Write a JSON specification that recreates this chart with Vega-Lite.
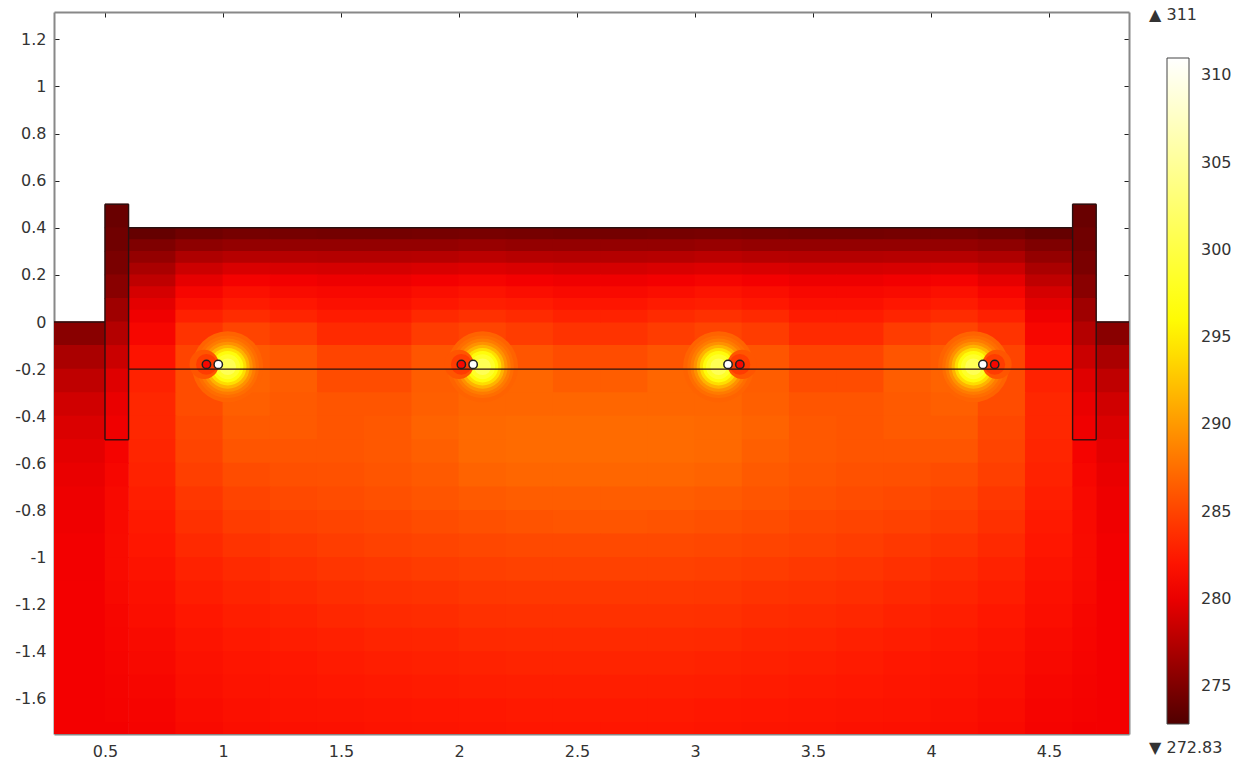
{"$schema":"https://vega.github.io/schema/vega-lite/v6.json","width":1075,"height":722,"autosize":"none","padding":{"left":54,"top":12,"right":118,"bottom":31},"background":"white","view":{"stroke":null},
"config":{"font":"DejaVu Sans","axis":{"labelFont":"DejaVu Sans","labelFontSize":16,"labelColor":"#333","domainColor":"#888","domainWidth":2,"tickColor":"#222","tickSize":-5,"tickWidth":1,"grid":false,"title":null,"zindex":1}},
"datasets":{
"top":[
{"x":0.7,"y":0.375,"t":273.8},{"x":0.9,"y":0.375,"t":274.3},{"x":1.1,"y":0.375,"t":274.6},{"x":1.3,"y":0.375,"t":274.6},{"x":1.5,"y":0.375,"t":274.5},{"x":1.7,"y":0.375,"t":274.5},{"x":1.9,"y":0.375,"t":274.6},{"x":2.1,"y":0.375,"t":274.7},{"x":2.3,"y":0.375,"t":274.6},{"x":2.5,"y":0.375,"t":274.5},{"x":2.7,"y":0.375,"t":274.5},{"x":2.9,"y":0.375,"t":274.6},{"x":3.1,"y":0.375,"t":274.7},{"x":3.3,"y":0.375,"t":274.6},{"x":3.5,"y":0.375,"t":274.5},{"x":3.7,"y":0.375,"t":274.5},{"x":3.9,"y":0.375,"t":274.6},{"x":4.1,"y":0.375,"t":274.6},{"x":4.3,"y":0.375,"t":274.3},{"x":4.5,"y":0.375,"t":273.8},
{"x":0.7,"y":0.325,"t":275},{"x":0.9,"y":0.325,"t":275.7},{"x":1.1,"y":0.325,"t":276},{"x":1.3,"y":0.325,"t":276},{"x":1.5,"y":0.325,"t":276},{"x":1.7,"y":0.325,"t":276},{"x":1.9,"y":0.325,"t":276},{"x":2.1,"y":0.325,"t":276.2},{"x":2.3,"y":0.325,"t":276},{"x":2.5,"y":0.325,"t":276},{"x":2.7,"y":0.325,"t":276},{"x":2.9,"y":0.325,"t":276},{"x":3.1,"y":0.325,"t":276.2},{"x":3.3,"y":0.325,"t":276},{"x":3.5,"y":0.325,"t":276},{"x":3.7,"y":0.325,"t":276},{"x":3.9,"y":0.325,"t":276},{"x":4.1,"y":0.325,"t":276},{"x":4.3,"y":0.325,"t":275.7},{"x":4.5,"y":0.325,"t":275},
{"x":0.7,"y":0.275,"t":276},{"x":0.9,"y":0.275,"t":277.2},{"x":1.1,"y":0.275,"t":277.6},{"x":1.3,"y":0.275,"t":277.6},{"x":1.5,"y":0.275,"t":277.5},{"x":1.7,"y":0.275,"t":277.5},{"x":1.9,"y":0.275,"t":277.6},{"x":2.1,"y":0.275,"t":277.8},{"x":2.3,"y":0.275,"t":277.6},{"x":2.5,"y":0.275,"t":277.5},{"x":2.7,"y":0.275,"t":277.5},{"x":2.9,"y":0.275,"t":277.6},{"x":3.1,"y":0.275,"t":277.8},{"x":3.3,"y":0.275,"t":277.6},{"x":3.5,"y":0.275,"t":277.5},{"x":3.7,"y":0.275,"t":277.5},{"x":3.9,"y":0.275,"t":277.6},{"x":4.1,"y":0.275,"t":277.6},{"x":4.3,"y":0.275,"t":277.2},{"x":4.5,"y":0.275,"t":276},
{"x":0.7,"y":0.225,"t":277},{"x":0.9,"y":0.225,"t":278.6},{"x":1.1,"y":0.225,"t":279.2},{"x":1.3,"y":0.225,"t":279.1},{"x":1.5,"y":0.225,"t":279},{"x":1.7,"y":0.225,"t":279},{"x":1.9,"y":0.225,"t":279.2},{"x":2.1,"y":0.225,"t":279.4},{"x":2.3,"y":0.225,"t":279.2},{"x":2.5,"y":0.225,"t":279},{"x":2.7,"y":0.225,"t":279},{"x":2.9,"y":0.225,"t":279.2},{"x":3.1,"y":0.225,"t":279.4},{"x":3.3,"y":0.225,"t":279.2},{"x":3.5,"y":0.225,"t":279},{"x":3.7,"y":0.225,"t":279},{"x":3.9,"y":0.225,"t":279.1},{"x":4.1,"y":0.225,"t":279.2},{"x":4.3,"y":0.225,"t":278.6},{"x":4.5,"y":0.225,"t":277},
{"x":0.7,"y":0.175,"t":278},{"x":0.9,"y":0.175,"t":279.8},{"x":1.1,"y":0.175,"t":280.6},{"x":1.3,"y":0.175,"t":280.4},{"x":1.5,"y":0.175,"t":280.2},{"x":1.7,"y":0.175,"t":280.2},{"x":1.9,"y":0.175,"t":280.5},{"x":2.1,"y":0.175,"t":280.8},{"x":2.3,"y":0.175,"t":280.5},{"x":2.5,"y":0.175,"t":280.3},{"x":2.7,"y":0.175,"t":280.3},{"x":2.9,"y":0.175,"t":280.5},{"x":3.1,"y":0.175,"t":280.8},{"x":3.3,"y":0.175,"t":280.5},{"x":3.5,"y":0.175,"t":280.2},{"x":3.7,"y":0.175,"t":280.2},{"x":3.9,"y":0.175,"t":280.4},{"x":4.1,"y":0.175,"t":280.6},{"x":4.3,"y":0.175,"t":279.8},{"x":4.5,"y":0.175,"t":278},
{"x":0.7,"y":0.125,"t":279},{"x":0.9,"y":0.125,"t":280.9},{"x":1.1,"y":0.125,"t":281.8},{"x":1.3,"y":0.125,"t":281.4},{"x":1.5,"y":0.125,"t":281.1},{"x":1.7,"y":0.125,"t":281.1},{"x":1.9,"y":0.125,"t":281.6},{"x":2.1,"y":0.125,"t":282},{"x":2.3,"y":0.125,"t":281.6},{"x":2.5,"y":0.125,"t":281.3},{"x":2.7,"y":0.125,"t":281.3},{"x":2.9,"y":0.125,"t":281.6},{"x":3.1,"y":0.125,"t":282},{"x":3.3,"y":0.125,"t":281.6},{"x":3.5,"y":0.125,"t":281.1},{"x":3.7,"y":0.125,"t":281.1},{"x":3.9,"y":0.125,"t":281.4},{"x":4.1,"y":0.125,"t":281.8},{"x":4.3,"y":0.125,"t":280.9},{"x":4.5,"y":0.125,"t":279},
{"x":0.7,"y":0.075,"t":279.7},{"x":0.9,"y":0.075,"t":281.8},{"x":1.1,"y":0.075,"t":282.6},{"x":1.3,"y":0.075,"t":282.3},{"x":1.5,"y":0.075,"t":281.8},{"x":1.7,"y":0.075,"t":281.8},{"x":1.9,"y":0.075,"t":282.4},{"x":2.1,"y":0.075,"t":282.8},{"x":2.3,"y":0.075,"t":282.6},{"x":2.5,"y":0.075,"t":282.2},{"x":2.7,"y":0.075,"t":282.2},{"x":2.9,"y":0.075,"t":282.6},{"x":3.1,"y":0.075,"t":282.8},{"x":3.3,"y":0.075,"t":282.4},{"x":3.5,"y":0.075,"t":281.8},{"x":3.7,"y":0.075,"t":281.8},{"x":3.9,"y":0.075,"t":282.3},{"x":4.1,"y":0.075,"t":282.6},{"x":4.3,"y":0.075,"t":281.8},{"x":4.5,"y":0.075,"t":279.7},
{"x":0.7,"y":0.025,"t":280.3},{"x":0.9,"y":0.025,"t":282.9},{"x":1.1,"y":0.025,"t":283.6},{"x":1.3,"y":0.025,"t":283.1},{"x":1.5,"y":0.025,"t":282.6},{"x":1.7,"y":0.025,"t":282.6},{"x":1.9,"y":0.025,"t":283.4},{"x":2.1,"y":0.025,"t":283.8},{"x":2.3,"y":0.025,"t":283.5},{"x":2.5,"y":0.025,"t":283},{"x":2.7,"y":0.025,"t":283},{"x":2.9,"y":0.025,"t":283.5},{"x":3.1,"y":0.025,"t":283.8},{"x":3.3,"y":0.025,"t":283.4},{"x":3.5,"y":0.025,"t":282.6},{"x":3.7,"y":0.025,"t":282.6},{"x":3.9,"y":0.025,"t":283.1},{"x":4.1,"y":0.025,"t":283.6},{"x":4.3,"y":0.025,"t":282.9},{"x":4.5,"y":0.025,"t":280.3}
],
"body":[
{"x":0.7,"y":-0.05,"t":281},{"x":0.9,"y":-0.05,"t":284},{"x":1.1,"y":-0.05,"t":285},{"x":1.3,"y":-0.05,"t":284.5},{"x":1.5,"y":-0.05,"t":283.5},{"x":1.7,"y":-0.05,"t":283.5},{"x":1.9,"y":-0.05,"t":284.5},{"x":2.1,"y":-0.05,"t":285},{"x":2.3,"y":-0.05,"t":284.5},{"x":2.5,"y":-0.05,"t":284},{"x":2.7,"y":-0.05,"t":284},{"x":2.9,"y":-0.05,"t":284.5},{"x":3.1,"y":-0.05,"t":285},{"x":3.3,"y":-0.05,"t":284.5},{"x":3.5,"y":-0.05,"t":283.5},{"x":3.7,"y":-0.05,"t":283.5},{"x":3.9,"y":-0.05,"t":284.5},{"x":4.1,"y":-0.05,"t":285},{"x":4.3,"y":-0.05,"t":284},{"x":4.5,"y":-0.05,"t":281},
{"x":0.7,"y":-0.15,"t":282},{"x":0.9,"y":-0.15,"t":285},{"x":1.1,"y":-0.15,"t":286.3},{"x":1.3,"y":-0.15,"t":286},{"x":1.5,"y":-0.15,"t":285},{"x":1.7,"y":-0.15,"t":285},{"x":1.9,"y":-0.15,"t":286},{"x":2.1,"y":-0.15,"t":286.5},{"x":2.3,"y":-0.15,"t":286},{"x":2.5,"y":-0.15,"t":285.5},{"x":2.7,"y":-0.15,"t":285.5},{"x":2.9,"y":-0.15,"t":286},{"x":3.1,"y":-0.15,"t":286.5},{"x":3.3,"y":-0.15,"t":286},{"x":3.5,"y":-0.15,"t":285},{"x":3.7,"y":-0.15,"t":285},{"x":3.9,"y":-0.15,"t":286},{"x":4.1,"y":-0.15,"t":286.3},{"x":4.3,"y":-0.15,"t":285},{"x":4.5,"y":-0.15,"t":282},
{"x":0.7,"y":-0.25,"t":283},{"x":0.9,"y":-0.25,"t":285.5},{"x":1.1,"y":-0.25,"t":286.8},{"x":1.3,"y":-0.25,"t":286.5},{"x":1.5,"y":-0.25,"t":285.5},{"x":1.7,"y":-0.25,"t":285.5},{"x":1.9,"y":-0.25,"t":286.5},{"x":2.1,"y":-0.25,"t":287},{"x":2.3,"y":-0.25,"t":287},{"x":2.5,"y":-0.25,"t":286.5},{"x":2.7,"y":-0.25,"t":286.5},{"x":2.9,"y":-0.25,"t":287},{"x":3.1,"y":-0.25,"t":287},{"x":3.3,"y":-0.25,"t":286.5},{"x":3.5,"y":-0.25,"t":285.5},{"x":3.7,"y":-0.25,"t":285.5},{"x":3.9,"y":-0.25,"t":286.5},{"x":4.1,"y":-0.25,"t":286.8},{"x":4.3,"y":-0.25,"t":285.5},{"x":4.5,"y":-0.25,"t":283},
{"x":0.7,"y":-0.35,"t":283.3},{"x":0.9,"y":-0.35,"t":285.5},{"x":1.1,"y":-0.35,"t":286.6},{"x":1.3,"y":-0.35,"t":286.3},{"x":1.5,"y":-0.35,"t":286},{"x":1.7,"y":-0.35,"t":286},{"x":1.9,"y":-0.35,"t":286.6},{"x":2.1,"y":-0.35,"t":287},{"x":2.3,"y":-0.35,"t":287},{"x":2.5,"y":-0.35,"t":287},{"x":2.7,"y":-0.35,"t":287},{"x":2.9,"y":-0.35,"t":287},{"x":3.1,"y":-0.35,"t":287},{"x":3.3,"y":-0.35,"t":286.6},{"x":3.5,"y":-0.35,"t":286},{"x":3.7,"y":-0.35,"t":286},{"x":3.9,"y":-0.35,"t":286.3},{"x":4.1,"y":-0.35,"t":286.6},{"x":4.3,"y":-0.35,"t":285.5},{"x":4.5,"y":-0.35,"t":283.3},
{"x":0.7,"y":-0.45,"t":283.3},{"x":0.9,"y":-0.45,"t":285.2},{"x":1.1,"y":-0.45,"t":286.3},{"x":1.3,"y":-0.45,"t":286.3},{"x":1.5,"y":-0.45,"t":286},{"x":1.7,"y":-0.45,"t":286.2},{"x":1.9,"y":-0.45,"t":286.8},{"x":2.1,"y":-0.45,"t":287.2},{"x":2.3,"y":-0.45,"t":287.3},{"x":2.5,"y":-0.45,"t":287.3},{"x":2.7,"y":-0.45,"t":287.3},{"x":2.9,"y":-0.45,"t":287.3},{"x":3.1,"y":-0.45,"t":287.2},{"x":3.3,"y":-0.45,"t":286.8},{"x":3.5,"y":-0.45,"t":286.2},{"x":3.7,"y":-0.45,"t":286},{"x":3.9,"y":-0.45,"t":286.3},{"x":4.1,"y":-0.45,"t":286.3},{"x":4.3,"y":-0.45,"t":285.2},{"x":4.5,"y":-0.45,"t":283.3},
{"x":0.7,"y":-0.55,"t":283.2},{"x":0.9,"y":-0.55,"t":285},{"x":1.1,"y":-0.55,"t":286},{"x":1.3,"y":-0.55,"t":286},{"x":1.5,"y":-0.55,"t":286},{"x":1.7,"y":-0.55,"t":286.2},{"x":1.9,"y":-0.55,"t":286.6},{"x":2.1,"y":-0.55,"t":287.2},{"x":2.3,"y":-0.55,"t":287.3},{"x":2.5,"y":-0.55,"t":287.3},{"x":2.7,"y":-0.55,"t":287.3},{"x":2.9,"y":-0.55,"t":287.3},{"x":3.1,"y":-0.55,"t":287.2},{"x":3.3,"y":-0.55,"t":286.6},{"x":3.5,"y":-0.55,"t":286.2},{"x":3.7,"y":-0.55,"t":286},{"x":3.9,"y":-0.55,"t":286},{"x":4.1,"y":-0.55,"t":286},{"x":4.3,"y":-0.55,"t":285},{"x":4.5,"y":-0.55,"t":283.2},
{"x":0.7,"y":-0.65,"t":283},{"x":0.9,"y":-0.65,"t":284.7},{"x":1.1,"y":-0.65,"t":285.5},{"x":1.3,"y":-0.65,"t":285.7},{"x":1.5,"y":-0.65,"t":285.8},{"x":1.7,"y":-0.65,"t":286},{"x":1.9,"y":-0.65,"t":286.3},{"x":2.1,"y":-0.65,"t":286.8},{"x":2.3,"y":-0.65,"t":287},{"x":2.5,"y":-0.65,"t":287},{"x":2.7,"y":-0.65,"t":287},{"x":2.9,"y":-0.65,"t":287},{"x":3.1,"y":-0.65,"t":286.8},{"x":3.3,"y":-0.65,"t":286.3},{"x":3.5,"y":-0.65,"t":286},{"x":3.7,"y":-0.65,"t":285.8},{"x":3.9,"y":-0.65,"t":285.7},{"x":4.1,"y":-0.65,"t":285.5},{"x":4.3,"y":-0.65,"t":284.7},{"x":4.5,"y":-0.65,"t":283},
{"x":0.7,"y":-0.75,"t":282.8},{"x":0.9,"y":-0.75,"t":284.2},{"x":1.1,"y":-0.75,"t":285},{"x":1.3,"y":-0.75,"t":285.3},{"x":1.5,"y":-0.75,"t":285.5},{"x":1.7,"y":-0.75,"t":285.7},{"x":1.9,"y":-0.75,"t":286},{"x":2.1,"y":-0.75,"t":286.3},{"x":2.3,"y":-0.75,"t":286.5},{"x":2.5,"y":-0.75,"t":286.5},{"x":2.7,"y":-0.75,"t":286.5},{"x":2.9,"y":-0.75,"t":286.5},{"x":3.1,"y":-0.75,"t":286.3},{"x":3.3,"y":-0.75,"t":286},{"x":3.5,"y":-0.75,"t":285.7},{"x":3.7,"y":-0.75,"t":285.5},{"x":3.9,"y":-0.75,"t":285.3},{"x":4.1,"y":-0.75,"t":285},{"x":4.3,"y":-0.75,"t":284.2},{"x":4.5,"y":-0.75,"t":282.8},
{"x":0.7,"y":-0.85,"t":282.5},{"x":0.9,"y":-0.85,"t":283.8},{"x":1.1,"y":-0.85,"t":284.5},{"x":1.3,"y":-0.85,"t":284.8},{"x":1.5,"y":-0.85,"t":285},{"x":1.7,"y":-0.85,"t":285.2},{"x":1.9,"y":-0.85,"t":285.5},{"x":2.1,"y":-0.85,"t":285.7},{"x":2.3,"y":-0.85,"t":285.9},{"x":2.5,"y":-0.85,"t":286},{"x":2.7,"y":-0.85,"t":286},{"x":2.9,"y":-0.85,"t":285.9},{"x":3.1,"y":-0.85,"t":285.7},{"x":3.3,"y":-0.85,"t":285.5},{"x":3.5,"y":-0.85,"t":285.2},{"x":3.7,"y":-0.85,"t":285},{"x":3.9,"y":-0.85,"t":284.8},{"x":4.1,"y":-0.85,"t":284.5},{"x":4.3,"y":-0.85,"t":283.8},{"x":4.5,"y":-0.85,"t":282.5},
{"x":0.7,"y":-0.95,"t":282.3},{"x":0.9,"y":-0.95,"t":283.4},{"x":1.1,"y":-0.95,"t":284},{"x":1.3,"y":-0.95,"t":284.3},{"x":1.5,"y":-0.95,"t":284.6},{"x":1.7,"y":-0.95,"t":284.8},{"x":1.9,"y":-0.95,"t":285},{"x":2.1,"y":-0.95,"t":285.2},{"x":2.3,"y":-0.95,"t":285.3},{"x":2.5,"y":-0.95,"t":285.3},{"x":2.7,"y":-0.95,"t":285.3},{"x":2.9,"y":-0.95,"t":285.3},{"x":3.1,"y":-0.95,"t":285.2},{"x":3.3,"y":-0.95,"t":285},{"x":3.5,"y":-0.95,"t":284.8},{"x":3.7,"y":-0.95,"t":284.6},{"x":3.9,"y":-0.95,"t":284.3},{"x":4.1,"y":-0.95,"t":284},{"x":4.3,"y":-0.95,"t":283.4},{"x":4.5,"y":-0.95,"t":282.3},
{"x":0.7,"y":-1.05,"t":282},{"x":0.9,"y":-1.05,"t":283},{"x":1.1,"y":-1.05,"t":283.5},{"x":1.3,"y":-1.05,"t":283.8},{"x":1.5,"y":-1.05,"t":284.1},{"x":1.7,"y":-1.05,"t":284.3},{"x":1.9,"y":-1.05,"t":284.5},{"x":2.1,"y":-1.05,"t":284.7},{"x":2.3,"y":-1.05,"t":284.8},{"x":2.5,"y":-1.05,"t":284.8},{"x":2.7,"y":-1.05,"t":284.8},{"x":2.9,"y":-1.05,"t":284.8},{"x":3.1,"y":-1.05,"t":284.7},{"x":3.3,"y":-1.05,"t":284.5},{"x":3.5,"y":-1.05,"t":284.3},{"x":3.7,"y":-1.05,"t":284.1},{"x":3.9,"y":-1.05,"t":283.8},{"x":4.1,"y":-1.05,"t":283.5},{"x":4.3,"y":-1.05,"t":283},{"x":4.5,"y":-1.05,"t":282},
{"x":0.7,"y":-1.15,"t":281.8},{"x":0.9,"y":-1.15,"t":282.7},{"x":1.1,"y":-1.15,"t":283.1},{"x":1.3,"y":-1.15,"t":283.4},{"x":1.5,"y":-1.15,"t":283.7},{"x":1.7,"y":-1.15,"t":283.9},{"x":1.9,"y":-1.15,"t":284},{"x":2.1,"y":-1.15,"t":284.2},{"x":2.3,"y":-1.15,"t":284.3},{"x":2.5,"y":-1.15,"t":284.3},{"x":2.7,"y":-1.15,"t":284.3},{"x":2.9,"y":-1.15,"t":284.3},{"x":3.1,"y":-1.15,"t":284.2},{"x":3.3,"y":-1.15,"t":284},{"x":3.5,"y":-1.15,"t":283.9},{"x":3.7,"y":-1.15,"t":283.7},{"x":3.9,"y":-1.15,"t":283.4},{"x":4.1,"y":-1.15,"t":283.1},{"x":4.3,"y":-1.15,"t":282.7},{"x":4.5,"y":-1.15,"t":281.8},
{"x":0.7,"y":-1.25,"t":281.6},{"x":0.9,"y":-1.25,"t":282.4},{"x":1.1,"y":-1.25,"t":282.8},{"x":1.3,"y":-1.25,"t":283},{"x":1.5,"y":-1.25,"t":283.3},{"x":1.7,"y":-1.25,"t":283.5},{"x":1.9,"y":-1.25,"t":283.6},{"x":2.1,"y":-1.25,"t":283.8},{"x":2.3,"y":-1.25,"t":283.9},{"x":2.5,"y":-1.25,"t":283.9},{"x":2.7,"y":-1.25,"t":283.9},{"x":2.9,"y":-1.25,"t":283.9},{"x":3.1,"y":-1.25,"t":283.8},{"x":3.3,"y":-1.25,"t":283.6},{"x":3.5,"y":-1.25,"t":283.5},{"x":3.7,"y":-1.25,"t":283.3},{"x":3.9,"y":-1.25,"t":283},{"x":4.1,"y":-1.25,"t":282.8},{"x":4.3,"y":-1.25,"t":282.4},{"x":4.5,"y":-1.25,"t":281.6},
{"x":0.7,"y":-1.35,"t":281.4},{"x":0.9,"y":-1.35,"t":282.1},{"x":1.1,"y":-1.35,"t":282.5},{"x":1.3,"y":-1.35,"t":282.7},{"x":1.5,"y":-1.35,"t":282.9},{"x":1.7,"y":-1.35,"t":283.1},{"x":1.9,"y":-1.35,"t":283.2},{"x":2.1,"y":-1.35,"t":283.4},{"x":2.3,"y":-1.35,"t":283.5},{"x":2.5,"y":-1.35,"t":283.5},{"x":2.7,"y":-1.35,"t":283.5},{"x":2.9,"y":-1.35,"t":283.5},{"x":3.1,"y":-1.35,"t":283.4},{"x":3.3,"y":-1.35,"t":283.2},{"x":3.5,"y":-1.35,"t":283.1},{"x":3.7,"y":-1.35,"t":282.9},{"x":3.9,"y":-1.35,"t":282.7},{"x":4.1,"y":-1.35,"t":282.5},{"x":4.3,"y":-1.35,"t":282.1},{"x":4.5,"y":-1.35,"t":281.4},
{"x":0.7,"y":-1.45,"t":281.2},{"x":0.9,"y":-1.45,"t":281.9},{"x":1.1,"y":-1.45,"t":282.2},{"x":1.3,"y":-1.45,"t":282.4},{"x":1.5,"y":-1.45,"t":282.6},{"x":1.7,"y":-1.45,"t":282.8},{"x":1.9,"y":-1.45,"t":282.9},{"x":2.1,"y":-1.45,"t":283},{"x":2.3,"y":-1.45,"t":283.1},{"x":2.5,"y":-1.45,"t":283.1},{"x":2.7,"y":-1.45,"t":283.1},{"x":2.9,"y":-1.45,"t":283.1},{"x":3.1,"y":-1.45,"t":283},{"x":3.3,"y":-1.45,"t":282.9},{"x":3.5,"y":-1.45,"t":282.8},{"x":3.7,"y":-1.45,"t":282.6},{"x":3.9,"y":-1.45,"t":282.4},{"x":4.1,"y":-1.45,"t":282.2},{"x":4.3,"y":-1.45,"t":281.9},{"x":4.5,"y":-1.45,"t":281.2},
{"x":0.7,"y":-1.55,"t":281},{"x":0.9,"y":-1.55,"t":281.7},{"x":1.1,"y":-1.55,"t":282},{"x":1.3,"y":-1.55,"t":282.2},{"x":1.5,"y":-1.55,"t":282.4},{"x":1.7,"y":-1.55,"t":282.5},{"x":1.9,"y":-1.55,"t":282.6},{"x":2.1,"y":-1.55,"t":282.7},{"x":2.3,"y":-1.55,"t":282.8},{"x":2.5,"y":-1.55,"t":282.8},{"x":2.7,"y":-1.55,"t":282.8},{"x":2.9,"y":-1.55,"t":282.8},{"x":3.1,"y":-1.55,"t":282.7},{"x":3.3,"y":-1.55,"t":282.6},{"x":3.5,"y":-1.55,"t":282.5},{"x":3.7,"y":-1.55,"t":282.4},{"x":3.9,"y":-1.55,"t":282.2},{"x":4.1,"y":-1.55,"t":282},{"x":4.3,"y":-1.55,"t":281.7},{"x":4.5,"y":-1.55,"t":281},
{"x":0.7,"y":-1.65,"t":280.8},{"x":0.9,"y":-1.65,"t":281.5},{"x":1.1,"y":-1.65,"t":281.8},{"x":1.3,"y":-1.65,"t":282},{"x":1.5,"y":-1.65,"t":282.1},{"x":1.7,"y":-1.65,"t":282.2},{"x":1.9,"y":-1.65,"t":282.3},{"x":2.1,"y":-1.65,"t":282.4},{"x":2.3,"y":-1.65,"t":282.5},{"x":2.5,"y":-1.65,"t":282.5},{"x":2.7,"y":-1.65,"t":282.5},{"x":2.9,"y":-1.65,"t":282.5},{"x":3.1,"y":-1.65,"t":282.4},{"x":3.3,"y":-1.65,"t":282.3},{"x":3.5,"y":-1.65,"t":282.2},{"x":3.7,"y":-1.65,"t":282.1},{"x":3.9,"y":-1.65,"t":282},{"x":4.1,"y":-1.65,"t":281.8},{"x":4.3,"y":-1.65,"t":281.5},{"x":4.5,"y":-1.65,"t":280.8},
{"x":0.7,"y":-1.75,"t":280.7},{"x":0.9,"y":-1.75,"t":281.3},{"x":1.1,"y":-1.75,"t":281.6},{"x":1.3,"y":-1.75,"t":281.8},{"x":1.5,"y":-1.75,"t":281.9},{"x":1.7,"y":-1.75,"t":282},{"x":1.9,"y":-1.75,"t":282.1},{"x":2.1,"y":-1.75,"t":282.2},{"x":2.3,"y":-1.75,"t":282.3},{"x":2.5,"y":-1.75,"t":282.3},{"x":2.7,"y":-1.75,"t":282.3},{"x":2.9,"y":-1.75,"t":282.3},{"x":3.1,"y":-1.75,"t":282.2},{"x":3.3,"y":-1.75,"t":282.1},{"x":3.5,"y":-1.75,"t":282},{"x":3.7,"y":-1.75,"t":281.9},{"x":3.9,"y":-1.75,"t":281.8},{"x":4.1,"y":-1.75,"t":281.6},{"x":4.3,"y":-1.75,"t":281.3},{"x":4.5,"y":-1.75,"t":280.7}
],
"pile":[
{"x":0.55,"y":0.45,"t":274},{"x":0.55,"y":0.35,"t":274.3},{"x":0.55,"y":0.25,"t":274.8},{"x":0.55,"y":0.15,"t":275.5},{"x":0.55,"y":0.05,"t":276.5},{"x":0.55,"y":-0.05,"t":277.5},{"x":0.55,"y":-0.15,"t":278.5},{"x":0.55,"y":-0.25,"t":279.5},{"x":0.55,"y":-0.35,"t":280},{"x":0.55,"y":-0.45,"t":280.3},{"x":0.55,"y":-0.55,"t":280.7},{"x":0.55,"y":-0.65,"t":281},{"x":0.55,"y":-0.75,"t":281.2},{"x":0.55,"y":-0.85,"t":281.3},{"x":0.55,"y":-0.95,"t":281.4},{"x":0.55,"y":-1.05,"t":281.4},{"x":0.55,"y":-1.15,"t":281.2},{"x":0.55,"y":-1.25,"t":281},{"x":0.55,"y":-1.35,"t":280.9},{"x":0.55,"y":-1.45,"t":280.8},{"x":0.55,"y":-1.55,"t":280.7},{"x":0.55,"y":-1.65,"t":280.6},{"x":0.55,"y":-1.75,"t":280.5},
{"x":4.65,"y":0.45,"t":274},{"x":4.65,"y":0.35,"t":274.3},{"x":4.65,"y":0.25,"t":274.8},{"x":4.65,"y":0.15,"t":275.5},{"x":4.65,"y":0.05,"t":276.5},{"x":4.65,"y":-0.05,"t":277.5},{"x":4.65,"y":-0.15,"t":278.5},{"x":4.65,"y":-0.25,"t":279.5},{"x":4.65,"y":-0.35,"t":280},{"x":4.65,"y":-0.45,"t":280.3},{"x":4.65,"y":-0.55,"t":280.7},{"x":4.65,"y":-0.65,"t":281},{"x":4.65,"y":-0.75,"t":281.2},{"x":4.65,"y":-0.85,"t":281.3},{"x":4.65,"y":-0.95,"t":281.4},{"x":4.65,"y":-1.05,"t":281.4},{"x":4.65,"y":-1.15,"t":281.2},{"x":4.65,"y":-1.25,"t":281},{"x":4.65,"y":-1.35,"t":280.9},{"x":4.65,"y":-1.45,"t":280.8},{"x":4.65,"y":-1.55,"t":280.7},{"x":4.65,"y":-1.65,"t":280.6},{"x":4.65,"y":-1.75,"t":280.5}
],
"side":[
{"x":0.38,"y":-0.05,"t":275.5},{"x":0.38,"y":-0.15,"t":277},{"x":0.38,"y":-0.25,"t":278},{"x":0.38,"y":-0.35,"t":278.8},{"x":0.38,"y":-0.45,"t":279.3},{"x":0.38,"y":-0.55,"t":279.7},{"x":0.38,"y":-0.65,"t":280},{"x":0.38,"y":-0.75,"t":280.2},{"x":0.38,"y":-0.85,"t":280.3},{"x":0.38,"y":-0.95,"t":280.4},{"x":0.38,"y":-1.05,"t":280.4},{"x":0.38,"y":-1.15,"t":280.5},{"x":0.38,"y":-1.25,"t":280.5},{"x":0.38,"y":-1.35,"t":280.5},{"x":0.38,"y":-1.45,"t":280.5},{"x":0.38,"y":-1.55,"t":280.5},{"x":0.38,"y":-1.65,"t":280.5},{"x":0.38,"y":-1.75,"t":280.5},
{"x":4.82,"y":-0.05,"t":275.5},{"x":4.82,"y":-0.15,"t":277},{"x":4.82,"y":-0.25,"t":278},{"x":4.82,"y":-0.35,"t":278.8},{"x":4.82,"y":-0.45,"t":279.3},{"x":4.82,"y":-0.55,"t":279.7},{"x":4.82,"y":-0.65,"t":280},{"x":4.82,"y":-0.75,"t":280.2},{"x":4.82,"y":-0.85,"t":280.3},{"x":4.82,"y":-0.95,"t":280.4},{"x":4.82,"y":-1.05,"t":280.4},{"x":4.82,"y":-1.15,"t":280.5},{"x":4.82,"y":-1.25,"t":280.5},{"x":4.82,"y":-1.35,"t":280.5},{"x":4.82,"y":-1.45,"t":280.5},{"x":4.82,"y":-1.55,"t":280.5},{"x":4.82,"y":-1.65,"t":280.5},{"x":4.82,"y":-1.75,"t":280.5}
],
"hot":[
{"x":1.02,"y":-0.19,"r":0.17,"t":286.8},{"x":2.1,"y":-0.19,"r":0.17,"t":286.8},{"x":3.1,"y":-0.19,"r":0.17,"t":286.8},{"x":4.18,"y":-0.19,"r":0.17,"t":286.8},
{"x":1.02,"y":-0.19,"r":0.15,"t":287.4},{"x":2.1,"y":-0.19,"r":0.15,"t":287.4},{"x":3.1,"y":-0.19,"r":0.15,"t":287.4},{"x":4.18,"y":-0.19,"r":0.15,"t":287.4},
{"x":1.02,"y":-0.19,"r":0.135,"t":288.2},{"x":2.1,"y":-0.19,"r":0.135,"t":288.2},{"x":3.1,"y":-0.19,"r":0.135,"t":288.2},{"x":4.18,"y":-0.19,"r":0.135,"t":288.2},
{"x":1.02,"y":-0.19,"r":0.12,"t":289.5},{"x":2.1,"y":-0.19,"r":0.12,"t":289.5},{"x":3.1,"y":-0.19,"r":0.12,"t":289.5},{"x":4.18,"y":-0.19,"r":0.12,"t":289.5},
{"x":1.02,"y":-0.19,"r":0.105,"t":291.5},{"x":2.1,"y":-0.19,"r":0.105,"t":291.5},{"x":3.1,"y":-0.19,"r":0.105,"t":291.5},{"x":4.18,"y":-0.19,"r":0.105,"t":291.5},
{"x":1.02,"y":-0.19,"r":0.09,"t":294},{"x":2.1,"y":-0.19,"r":0.09,"t":294},{"x":3.1,"y":-0.19,"r":0.09,"t":294},{"x":4.18,"y":-0.19,"r":0.09,"t":294},
{"x":1.02,"y":-0.19,"r":0.075,"t":296.5},{"x":2.1,"y":-0.19,"r":0.075,"t":296.5},{"x":3.1,"y":-0.19,"r":0.075,"t":296.5},{"x":4.18,"y":-0.19,"r":0.075,"t":296.5},
{"x":1.02,"y":-0.19,"r":0.06,"t":298.5},{"x":2.1,"y":-0.19,"r":0.06,"t":298.5},{"x":3.1,"y":-0.19,"r":0.06,"t":298.5},{"x":4.18,"y":-0.19,"r":0.06,"t":298.5},
{"x":1.02,"y":-0.19,"r":0.04,"t":301},{"x":2.1,"y":-0.19,"r":0.04,"t":301},{"x":3.1,"y":-0.19,"r":0.04,"t":301},{"x":4.18,"y":-0.19,"r":0.04,"t":301}
],
"cold":[
{"x":0.92,"y":-0.18,"r":0.07,"t":286},{"x":2.0,"y":-0.18,"r":0.07,"t":286},{"x":3.2,"y":-0.18,"r":0.07,"t":286},{"x":4.28,"y":-0.18,"r":0.07,"t":286},
{"x":0.93,"y":-0.18,"r":0.05,"t":284.5},{"x":2.01,"y":-0.18,"r":0.05,"t":284.5},{"x":3.19,"y":-0.18,"r":0.05,"t":284.5},{"x":4.27,"y":-0.18,"r":0.05,"t":284.5}
],
"pipes":[
{"x":0.93,"y":-0.18,"t":281},{"x":0.98,"y":-0.18,"t":311},{"x":2.01,"y":-0.18,"t":281},{"x":2.06,"y":-0.18,"t":311},{"x":3.14,"y":-0.18,"t":311},{"x":3.19,"y":-0.18,"t":281},{"x":4.22,"y":-0.18,"t":311},{"x":4.27,"y":-0.18,"t":281}
],
"edges":[
{"x":0.284,"x2":0.5,"y":0,"y2":0},{"x":0.5,"x2":0.5,"y":-0.5,"y2":0.5},{"x":0.5,"x2":0.6,"y":0.5,"y2":0.5},{"x":0.6,"x2":0.6,"y":-0.5,"y2":0.5},{"x":0.5,"x2":0.6,"y":-0.5,"y2":-0.5},{"x":0.6,"x2":4.6,"y":0.4,"y2":0.4},{"x":0.6,"x2":4.6,"y":-0.2,"y2":-0.2},{"x":4.6,"x2":4.6,"y":-0.5,"y2":0.5},{"x":4.6,"x2":4.7,"y":0.5,"y2":0.5},{"x":4.7,"x2":4.7,"y":-0.5,"y2":0.5},{"x":4.6,"x2":4.7,"y":-0.5,"y2":-0.5},{"x":4.7,"x2":4.839,"y":0,"y2":0}
],
"bartick":[
{"x":5.0,"x2":5.021,"y":-1.546},{"x":5.072,"x2":5.093,"y":-1.546},{"x":5.0,"x2":5.021,"y":-1.177},{"x":5.072,"x2":5.093,"y":-1.177},{"x":5.0,"x2":5.021,"y":-0.807},{"x":5.072,"x2":5.093,"y":-0.807},{"x":5.0,"x2":5.021,"y":-0.437},{"x":5.072,"x2":5.093,"y":-0.437},{"x":5.0,"x2":5.021,"y":-0.067},{"x":5.072,"x2":5.093,"y":-0.067},{"x":5.0,"x2":5.021,"y":0.303},{"x":5.072,"x2":5.093,"y":0.303},{"x":5.0,"x2":5.021,"y":0.673},{"x":5.072,"x2":5.093,"y":0.673},{"x":5.0,"x2":5.021,"y":1.043},{"x":5.072,"x2":5.093,"y":1.043}
],
"labels":[
{"x":4.924,"y":1.304,"label":"▲ 311"},{"x":4.924,"y":-1.809,"label":"▼ 272.83"}
]},
"resolve":{"axis":{"x":"independent","y":"independent"}},
"layer":[
{"data":{"name":"body"},"mark":{"type":"rect","width":48,"height":24.5,"clip":true},
"encoding":{
"x":{"field":"x","type":"quantitative","scale":{"domain":[0.284,4.839],"nice":false,"zero":false},"axis":{"orient":"bottom","values":[0.5,1,1.5,2,2.5,3,3.5,4,4.5],"labelExpr":"''+datum.value","labelPadding":14}},
"y":{"field":"y","type":"quantitative","scale":{"domain":[-1.749,1.316],"nice":false,"zero":false},"axis":{"orient":"left","values":[-1.6,-1.4,-1.2,-1,-0.8,-0.6,-0.4,-0.2,0,0.2,0.4,0.6,0.8,1,1.2],"labelExpr":"''+datum.value","labelPadding":13}},
"color":{"field":"t","type":"quantitative","scale":{"domain":[272.83,311],"interpolate":"rgb","range":["#500000","#790000","#a20000","#cb0000","#f40000","#ff1700","#ff3800","#ff5800","#ff7900","#ff9900","#ffba00","#ffda00","#fffa00","#ffff1c","#ffff3c","#ffff5d","#ffff7d","#ffff9e","#ffffbe","#ffffdf","#ffffff"]},
"legend":{"orient":"none","legendX":1113,"legendY":46,"gradientLength":666,"gradientThickness":22,"title":null,"values":[275,280,285,290,295,300,305,310],"labelFontSize":16,"labelColor":"#333","labelOffset":12,"gradientStrokeColor":"#444","gradientStrokeWidth":1,"labelOverlap":false}}}},
{"data":{"name":"top"},"mark":{"type":"rect","width":48,"height":12.6,"clip":true},
"encoding":{"x":{"field":"x","type":"quantitative","axis":null},"y":{"field":"y","type":"quantitative","axis":null},"color":{"field":"t","type":"quantitative"}}},
{"data":{"name":"side"},"mark":{"type":"rect","width":57,"height":24.5,"clip":true},
"encoding":{"x":{"field":"x","type":"quantitative","axis":null},"y":{"field":"y","type":"quantitative","axis":null},"color":{"field":"t","type":"quantitative"}}},
{"data":{"name":"pile"},"mark":{"type":"rect","width":24,"height":24.5,"clip":true},
"encoding":{"x":{"field":"x","type":"quantitative","axis":null},"y":{"field":"y","type":"quantitative","axis":null},"color":{"field":"t","type":"quantitative"}}},
{"data":{"name":"hot"},"mark":{"type":"point","filled":true,"opacity":1,"strokeWidth":0,"shape":"circle"},
"encoding":{"x":{"field":"x","type":"quantitative","axis":null},"y":{"field":"y","type":"quantitative","axis":null},"color":{"field":"t","type":"quantitative"},"size":{"field":"r","type":"quantitative","legend":null,"scale":{"type":"pow","exponent":2,"domain":[0,0.3],"range":[0,15700]}}}},
{"data":{"name":"cold"},"mark":{"type":"point","filled":true,"opacity":1,"strokeWidth":0,"shape":"circle"},
"encoding":{"x":{"field":"x","type":"quantitative","axis":null},"y":{"field":"y","type":"quantitative","axis":null},"color":{"field":"t","type":"quantitative"},"size":{"field":"r","type":"quantitative","legend":null}}},
{"data":{"name":"edges"},"mark":{"type":"rule","color":"#2a1010","strokeWidth":1.4,"clip":true},
"encoding":{"x":{"field":"x","type":"quantitative","axis":null},"x2":{"field":"x2"},"y":{"field":"y","type":"quantitative","axis":null},"y2":{"field":"y2"}}},
{"data":{"name":"pipes"},"mark":{"type":"point","filled":true,"opacity":1,"size":70,"stroke":"#222","strokeWidth":1.5,"shape":"circle"},
"encoding":{"x":{"field":"x","type":"quantitative","axis":null},"y":{"field":"y","type":"quantitative","axis":null},"color":{"field":"t","type":"quantitative"}}},
{"data":{"name":"bartick"},"mark":{"type":"rule","color":"#222","strokeWidth":1,"clip":false},
"encoding":{"x":{"field":"x","type":"quantitative","axis":null},"x2":{"field":"x2"},"y":{"field":"y","type":"quantitative","axis":null}}},
{"data":{"name":"labels"},"mark":{"type":"text","align":"left","baseline":"middle","fontSize":16,"color":"#333","clip":false},
"encoding":{"x":{"field":"x","type":"quantitative","axis":{"orient":"top","values":[0.5,1,1.5,2,2.5,3,3.5,4,4.5],"labels":false}},"y":{"field":"y","type":"quantitative","axis":{"orient":"right","values":[-1.6,-1.4,-1.2,-1,-0.8,-0.6,-0.4,-0.2,0,0.2,0.4,0.6,0.8,1,1.2],"labels":false}},"text":{"field":"label","type":"nominal"}}}
]}
